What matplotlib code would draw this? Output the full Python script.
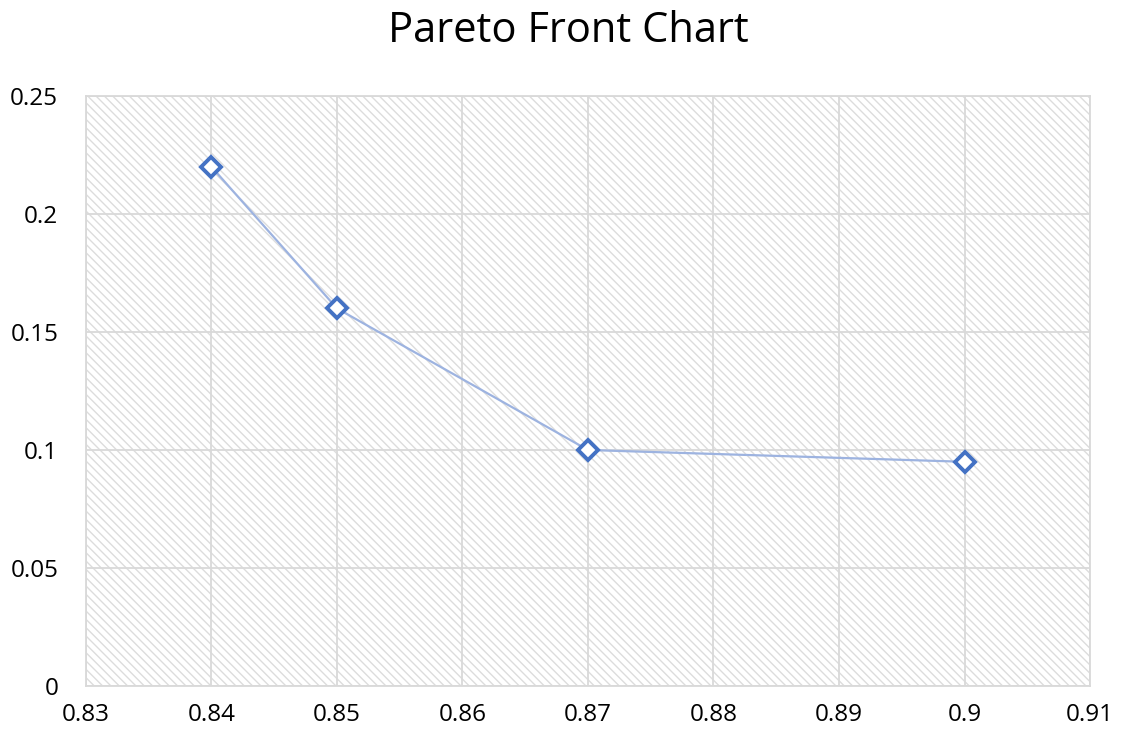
import matplotlib.pyplot as plt
from matplotlib.patches import Rectangle

# Pareto front points
accuracy = [0.84, 0.85, 0.87, 0.90]
cost = [0.22, 0.16, 0.10, 0.095]

x_ticks = [0.83, 0.84, 0.85, 0.86, 0.87, 0.88, 0.89, 0.90, 0.91]
y_ticks = [0, 0.05, 0.10, 0.15, 0.20, 0.25]

plt.rcParams['font.family'] = ['Open Sans', 'DejaVu Sans']
plt.rcParams['hatch.color'] = '#dcdcdc'
plt.rcParams['hatch.linewidth'] = 1.0

fig = plt.figure(figsize=(11.25, 7.42), dpi=100)
ax = fig.add_axes([0.0764, 0.0755, 0.8925, 0.7951])

# hatched plot area background
ax.add_patch(Rectangle((0, 0), 1, 1, transform=ax.transAxes, facecolor='white',
                       edgecolor='#dcdcdc', hatch='\\\\\\\\', linewidth=0, zorder=0))

ax.set_xlim(x_ticks[0], x_ticks[-1])
ax.set_ylim(y_ticks[0], y_ticks[-1])
ax.set_xticks(x_ticks)
ax.set_yticks(y_ticks)
ax.xaxis.set_major_formatter(plt.FuncFormatter(lambda v, _: f'{round(v, 4):g}'))
ax.yaxis.set_major_formatter(plt.FuncFormatter(lambda v, _: f'{round(v, 4):g}'))
ax.tick_params(axis='both', length=0, labelsize=17.5, colors='black')
ax.tick_params(axis='y', pad=20)
ax.tick_params(axis='x', pad=12)

ax.grid(True, color='#d9d9d9', linewidth=1.3, zorder=1)
ax.set_axisbelow(True)
for s in ax.spines.values():
    s.set_color('#d9d9d9')
    s.set_linewidth(1.3)

ax.plot(accuracy, cost, color='#9db3e0', linewidth=1.6, zorder=3)
ax.plot(accuracy, cost, linestyle='none', marker='D', markersize=10,
        markerfacecolor='white', markeredgecolor='#4472c4', markeredgewidth=2.8, zorder=4)

fig.text(0.505, 0.958, 'Pareto Front Chart', ha='center', va='center', fontsize=30)

fig.savefig('out.png', dpi=100, facecolor='white')
